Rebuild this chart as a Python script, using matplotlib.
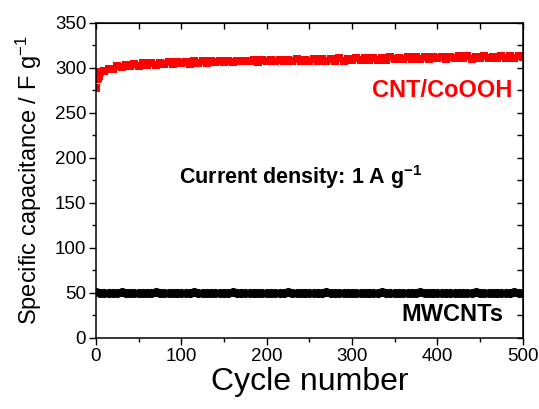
import matplotlib
matplotlib.use("Agg")
import matplotlib.pyplot as plt
from matplotlib.ticker import MultipleLocator

plt.rcParams['font.family'] = ['Liberation Sans', 'DejaVu Sans']
plt.rcParams['mathtext.fontset'] = 'custom'
plt.rcParams['mathtext.rm'] = 'Liberation Sans'
plt.rcParams['mathtext.bf'] = 'Liberation Sans:bold'
plt.rcParams['mathtext.default'] = 'regular'

# ---- data ----
cycles_red = [0, 1, 2, 3, 4] + list(range(5, 501, 5))
cap_red = [278, 287, 289, 291, 293,
           295, 296, 299, 299, 302, 301, 303, 302, 304, 302,
           305, 303, 305, 303, 305, 304, 306, 304, 306, 305,
           306, 304, 307, 305, 307, 305, 307, 306, 308, 306,
           308, 306, 308, 307, 308, 307, 309, 306, 309, 307,
           309, 307, 309, 307, 309, 308, 310, 307, 309, 308,
           310, 308, 310, 308, 310, 308, 311, 308, 310, 309,
           311, 309, 311, 309, 311, 309, 311, 309, 312, 310,
           311, 310, 312, 310, 312, 310, 312, 310, 312, 311,
           312, 310, 312, 311, 313, 311, 313, 310, 312, 311,
           313, 311, 312, 311, 313, 311, 313, 311, 313, 312]

cycles_black = list(range(0, 501, 5))
cap_black = [50.5, 50.2, 50.0, 50.3, 49.8, 50.1, 50.4, 50.0, 49.9, 50.2,
             50.3, 49.8, 50.1, 50.0, 50.4, 49.9, 50.2, 50.1, 49.8, 50.3,
             50.0, 50.2, 49.9, 50.4, 50.1, 49.8, 50.0, 50.3, 50.1, 49.9,
             50.2, 50.0, 50.4, 49.8, 50.1, 50.3, 49.9, 50.0, 50.2, 50.1,
             49.8, 50.3, 50.0, 50.2, 49.9, 50.4, 50.1, 49.8, 50.0, 50.3,
             50.1, 49.9, 50.2, 50.0, 50.4, 49.8, 50.1, 50.3, 49.9, 50.0,
             50.2, 50.1, 49.8, 50.3, 50.0, 50.2, 49.9, 50.4, 50.1, 49.8,
             50.0, 50.3, 50.1, 49.9, 50.2, 50.0, 50.4, 49.8, 50.1, 50.3,
             49.9, 50.0, 50.2, 50.1, 49.8, 50.3, 50.0, 50.2, 49.9, 50.4,
             50.1, 49.8, 50.0, 50.3, 50.1, 49.9, 50.2, 50.0, 50.4, 50.2,
             50.3]

xticks = [0, 100, 200, 300, 400, 500]
yticks = [0, 50, 100, 150, 200, 250, 300, 350]

# ---- figure ----
fig = plt.figure(figsize=(5.39, 4.09), dpi=100)
ax = fig.add_axes([0.178, 0.174, 0.792, 0.7705])

ax.plot(cycles_black, cap_black, linestyle='none', marker='o', markersize=6.6,
        color='black', markeredgewidth=0)
ax.plot(cycles_red, cap_red, linestyle='none', marker='s', markersize=6.4,
        color='#ff0000', markeredgewidth=0)

ax.set_xlim(0, 500)
ax.set_ylim(0, 350)
ax.set_xticks(xticks)
ax.set_yticks(yticks)
ax.xaxis.set_minor_locator(MultipleLocator(50))
ax.yaxis.set_minor_locator(MultipleLocator(25))

for s in ax.spines.values():
    s.set_linewidth(1.1)

ax.tick_params(which='both', direction='out', top=False, right=False,
               width=1.0, labelsize=13.5, pad=2)
ax.tick_params(which='major', length=5)
ax.tick_params(which='minor', length=3)

# inward ticks on top and right
axt = ax.secondary_xaxis('top')
axt.set_xticks(xticks)
axt.xaxis.set_minor_locator(MultipleLocator(50))
axt.tick_params(which='both', direction='in', labeltop=False, width=1.0)
axt.tick_params(which='major', length=4)
axt.tick_params(which='minor', length=4)
axr = ax.secondary_yaxis('right')
axr.set_yticks(yticks)
axr.yaxis.set_minor_locator(MultipleLocator(25))
axr.tick_params(which='both', direction='in', labelright=False, width=1.0)
axr.tick_params(which='major', length=4)
axr.tick_params(which='minor', length=4)

ax.set_xlabel('Cycle number', fontsize=23, labelpad=2)
ax.set_ylabel(r'Specific capacitance / F g$^{-1}$', fontsize=17, labelpad=8)

ax.text(0.975, 0.785, 'CNT/CoOOH', transform=ax.transAxes, color='#ff0000',
        fontsize=17, fontweight='bold', ha='right', va='center')
ax.text(0.955, 0.075, 'MWCNTs', transform=ax.transAxes, color='black',
        fontsize=17, fontweight='bold', ha='right', va='center')
ax.text(0.48, 0.51, r'Current density: 1 A g$^{\mathbf{-1}}$', transform=ax.transAxes,
        color='black', fontsize=15.5, fontweight='bold', ha='center', va='center')

fig.savefig('out.png', dpi=100)
